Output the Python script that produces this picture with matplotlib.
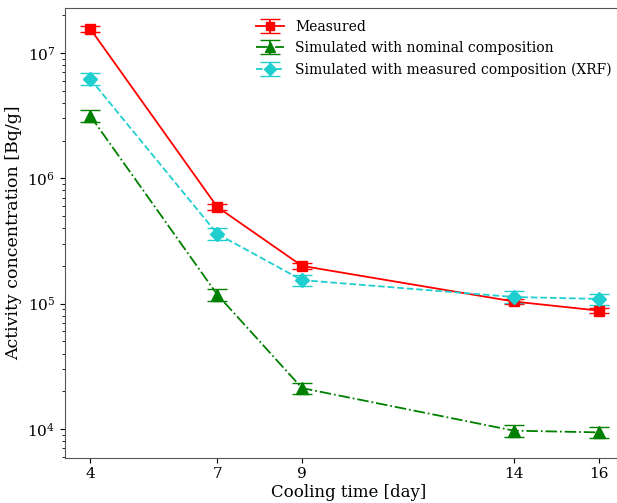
import numpy as np
import matplotlib.pyplot as plt

plt.rcParams['font.family'] = 'DejaVu Serif'

# cooling time [day]
dias = np.array([4, 7, 9, 14, 16])

medido = np.array([1.56e7, 5.9e5, 2.0e5, 1.04e5, 8.8e4])
medido_err = np.array([0.8e6, 0.35e5, 0.1e5, 0.05e5, 0.045e5])

nominal = np.array([3.15e6, 1.18e5, 2.12e4, 9.7e3, 9.4e3])
nominal_err = np.array([0.35e6, 0.14e5, 0.22e4, 1.0e3, 1.0e3])

xrf = np.array([6.2e6, 3.6e5, 1.54e5, 1.13e5, 1.09e5])
xrf_err = np.array([0.65e6, 0.38e5, 0.16e5, 0.12e5, 0.11e5])

ticks_x = [4, 7, 9, 14, 16]

fig = plt.figure(figsize=(6.17, 5.03), dpi=100)
ax = fig.add_axes([0.105, 0.09, 0.92, 0.895])

ax.errorbar(dias, medido, yerr=medido_err, fmt="s-", color="red", ms=7,
            capsize=7, lw=1.3, label="Measured")
ax.errorbar(dias, nominal, yerr=nominal_err, fmt="^-.", color="green", ms=8,
            capsize=7, lw=1.3, label="Simulated with nominal composition")
ax.errorbar(dias, xrf, yerr=xrf_err, fmt="D--", color="#1fcfcf", ms=7,
            capsize=7, lw=1.3, label="Simulated with measured composition (XRF)")

ax.set_yscale("log")
ax.set_xlim(3.4, 16.8)
ax.set_ylim(5.9e3, 2.3e7)
ax.set_xticks(ticks_x)
ax.set_xticklabels([str(t) for t in ticks_x])
ax.tick_params(labelsize=11)
ax.spines["right"].set_visible(False)
for s in ["left", "bottom", "top"]:
    ax.spines[s].set_color("#555555")

ax.set_xlabel("Cooling time [day]", fontsize=12, labelpad=2)
ax.set_ylabel("Activity concentration [Bq/g]", fontsize=12.5)

ax.legend(loc="upper left", bbox_to_anchor=(0.32, 0.995), frameon=False,
          fontsize=10, handlelength=2.0, handletextpad=0.8, markerscale=0.85,
          labelspacing=0.55, borderaxespad=0.3)

fig.savefig("out.png", dpi=100)
